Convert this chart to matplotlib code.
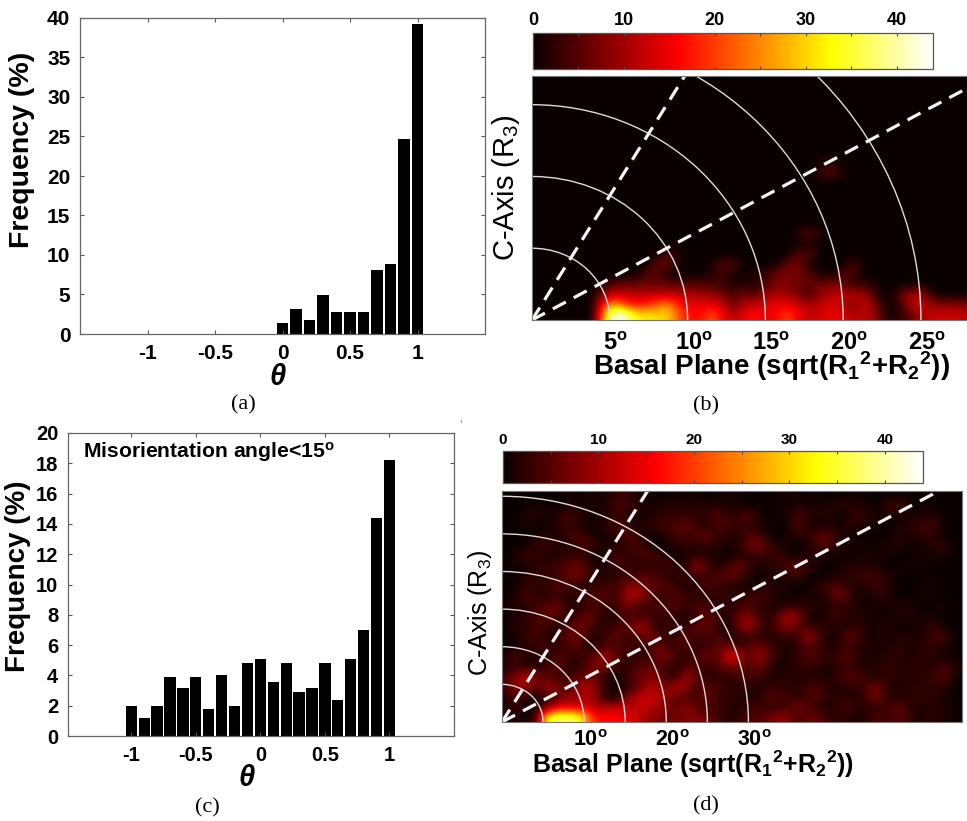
import numpy as np
import matplotlib
matplotlib.use('Agg')
import matplotlib.pyplot as plt
from matplotlib.patches import Ellipse
from matplotlib.transforms import ScaledTranslation

plt.rcParams['font.family'] = ['Liberation Sans', 'DejaVu Sans']
plt.rcParams['mathtext.default'] = 'regular'

W, H = 967, 821

# histogram (a)
theta_a = [0.0, 0.1, 0.2, 0.3, 0.4, 0.5, 0.6, 0.7, 0.8, 0.9, 1.0]
freq_a = [1.4, 3.2, 1.8, 4.9, 2.8, 2.8, 2.8, 8.1, 8.8, 24.7, 39.3]

# histogram (c)
theta_c = [-1.0, -0.9, -0.8, -0.7, -0.6, -0.5, -0.4, -0.3, -0.2, -0.1, 0.0,
           0.1, 0.2, 0.3, 0.4, 0.5, 0.6, 0.7, 0.8, 0.9, 1.0]
freq_c = [2.0, 1.2, 2.0, 3.9, 3.2, 3.9, 1.8, 4.05, 2.0, 4.8, 5.05,
          3.55, 4.8, 2.9, 3.2, 4.8, 2.4, 5.05, 7.0, 14.4, 18.2]

theta_ticks = [-1, -0.5, 0, 0.5, 1]
theta_labels = ['-1', '-0.5', '0', '0.5', '1']

# pole figure (b), rows listed from the bottom edge upwards, 40 columns
rows_b = [
    [0, 0, 0, 0, 0, 0, 24, 44, 44, 33, 32, 31, 30, 22, 17, 16, 22, 16, 11, 15,
     17, 14, 16, 21, 15, 12, 13, 15, 14, 11, 12, 9, 2, 1, 4, 9, 12, 13, 13, 12],
    [0, 0, 0, 0, 0, 0, 17, 28, 20, 17, 18, 22, 26, 18, 15, 15, 15, 13, 6, 11,
     13, 14, 15, 15, 13, 11, 12, 14, 13, 6, 13, 8, 1, 1, 8, 14, 10, 8, 9, 8],
    [0, 0, 0, 0, 0, 0, 8, 13, 13, 12, 12, 12, 12, 12, 11, 10, 9, 7, 4, 8,
     4, 9, 11, 10, 7, 3, 9, 11, 12, 12, 11, 3, 0, 2, 10, 11, 4, 0, 0, 0],
    [0, 0, 0, 0, 0, 0, 1, 5, 6, 6, 6, 6, 6, 5, 5, 5, 4, 3, 1, 2,
     1, 5, 7, 7, 6, 6, 7, 8, 6, 1, 3, 1, 0, 0, 0, 1, 0, 0, 0, 0],
    [0, 0, 0, 0, 0, 0, 0, 0, 0, 0, 5, 5, 1, 0, 0, 0, 2, 4, 1, 0,
     2, 3, 7, 8, 7, 5, 1, 0, 5, 5, 0, 0, 0, 0, 0, 0, 0, 0, 0, 0],
    [0, 0, 0, 0, 0, 0, 0, 0, 0, 0, 0, 6, 6, 1, 0, 0, 1, 5, 5, 0,
     0, 0, 0, 6, 7, 1, 0, 0, 0, 4, 0, 0, 0, 0, 0, 0, 0, 0, 0, 0],
    [0, 0, 0, 0, 0, 0, 0, 0, 0, 0, 0, 0, 5, 1, 0, 0, 0, 0, 0, 0,
     0, 0, 0, 0, 5, 5, 0, 0, 0, 0, 0, 0, 0, 0, 0, 0, 0, 0, 0, 0],
    [0, 0, 0, 0, 0, 0, 0, 0, 0, 0, 0, 0, 0, 0, 0, 0, 0, 0, 0, 0,
     0, 0, 0, 0, 0, 1, 0, 0, 0, 0, 0, 0, 0, 0, 0, 0, 0, 0, 0, 0],
    [0, 0, 0, 0, 0, 0, 0, 0, 0, 0, 0, 0, 0, 0, 0, 0, 0, 0, 0, 0,
     0, 0, 0, 0, 2, 6, 1, 0, 0, 0, 0, 0, 0, 0, 0, 0, 0, 0, 0, 0],
    [0] * 40,
    [0] * 40,
    [0] * 40,
    [0] * 40,
    [0] * 40,
    [0, 0, 0, 0, 0, 0, 0, 0, 0, 0, 0, 0, 0, 0, 0, 0, 0, 0, 0, 0,
     0, 0, 0, 0, 0, 0, 3, 6, 1, 0, 0, 0, 0, 0, 0, 0, 0, 0, 0, 0],
    [0, 0, 0, 0, 0, 0, 0, 0, 0, 0, 0, 0, 0, 0, 0, 0, 0, 0, 0, 0,
     0, 0, 0, 0, 0, 0, 1, 2, 0, 0, 0, 0, 0, 0, 0, 0, 0, 0, 0, 0],
    [0] * 40,
    [0] * 40,
    [0] * 40,
    [0] * 40,
    [0] * 40,
    [0] * 40,
    [0] * 40,
    [0] * 40,
]

# pole figure (d), rows listed from the top edge downwards, 46 columns
rows_d = [
    [0, 0, 0, 0, 0, 0, 1, 0, 1, 1, 1, 3, 3, 1, 1, 0, 0, 1, 0, 1, 0, 0, 1,
     1, 0, 0, 0, 1, 1, 1, 0, 1, 0, 0, 0, 1, 0, 0, 0, 0, 0, 0, 0, 0, 0, 0],
    [0, 0, 0, 1, 0, 0, 1, 1, 1, 2, 1, 4, 4, 2, 1, 1, 2, 1, 2, 2, 1, 2, 1,
     1, 0, 1, 0, 0, 1, 1, 1, 1, 1, 2, 3, 1, 1, 0, 3, 5, 2, 0, 1, 0, 0, 0],
    [0, 0, 2, 2, 1, 2, 4, 3, 1, 0, 2, 3, 2, 1, 1, 2, 3, 2, 3, 2, 3, 5, 3,
     2, 6, 2, 0, 1, 1, 4, 3, 1, 3, 0, 0, 4, 2, 1, 1, 0, 1, 1, 2, 1, 0, 0],
    [0, 1, 1, 0, 0, 2, 3, 2, 0, 1, 3, 4, 3, 1, 2, 3, 4, 5, 6, 3, 1, 4, 4,
     3, 3, 1, 1, 0, 0, 5, 2, 0, 1, 1, 2, 2, 1, 1, 0, 1, 2, 2, 4, 3, 0, 0],
    [0, 0, 0, 1, 2, 1, 3, 5, 3, 0, 1, 2, 5, 3, 1, 0, 2, 4, 3, 5, 6, 3, 2,
     1, 4, 5, 1, 0, 1, 2, 2, 5, 6, 2, 1, 0, 1, 0, 0, 2, 1, 2, 3, 1, 0, 0],
    [0, 0, 1, 3, 4, 2, 1, 3, 5, 2, 1, 1, 3, 5, 2, 0, 0, 2, 3, 1, 3, 2, 1,
     2, 5, 8, 5, 1, 1, 0, 1, 4, 4, 3, 1, 1, 0, 1, 1, 2, 1, 0, 1, 3, 2, 0],
    [0, 2, 3, 2, 1, 1, 3, 2, 2, 0, 2, 5, 2, 3, 5, 3, 2, 0, 1, 2, 1, 1, 0,
     1, 2, 3, 2, 4, 1, 0, 2, 1, 1, 0, 0, 1, 1, 1, 1, 0, 0, 1, 1, 1, 1, 0],
    [0, 1, 1, 2, 3, 4, 5, 7, 4, 1, 2, 3, 4, 2, 2, 3, 4, 2, 2, 11, 4, 1, 3,
     7, 4, 1, 2, 2, 5, 6, 3, 1, 0, 1, 2, 1, 2, 1, 0, 0, 1, 1, 0, 0, 0, 0],
    [1, 0, 2, 3, 2, 3, 5, 7, 4, 2, 1, 2, 3, 4, 5, 3, 2, 2, 3, 2, 3, 5, 6,
     5, 2, 0, 1, 1, 2, 3, 1, 0, 0, 1, 2, 3, 4, 3, 2, 1, 0, 0, 1, 0, 0, 0],
    [0, 1, 3, 2, 3, 5, 4, 2, 1, 3, 4, 4, 8, 9, 6, 6, 5, 2, 1, 3, 5, 3, 2,
     1, 0, 1, 3, 1, 1, 0, 0, 2, 4, 5, 2, 1, 2, 4, 2, 0, 0, 0, 1, 1, 0, 0],
    [0, 2, 4, 2, 2, 3, 1, 3, 5, 4, 5, 3, 10, 11, 7, 2, 3, 5, 3, 2, 1, 3, 3,
     2, 3, 5, 3, 1, 1, 0, 1, 1, 2, 7, 5, 1, 1, 1, 2, 0, 0, 1, 1, 0, 0, 0],
    [1, 1, 2, 4, 5, 7, 3, 1, 2, 5, 2, 4, 7, 4, 2, 5, 4, 5, 2, 5, 4, 2, 2,
     3, 4, 2, 2, 1, 2, 3, 2, 2, 1, 2, 2, 1, 1, 1, 1, 2, 2, 0, 0, 1, 1, 0],
    [0, 1, 3, 3, 6, 5, 1, 4, 7, 4, 1, 2, 4, 3, 5, 2, 4, 2, 1, 4, 5, 4, 1,
     5, 9, 5, 1, 4, 11, 9, 2, 0, 2, 4, 2, 2, 1, 1, 0, 1, 2, 1, 1, 1, 0, 0],
    [1, 2, 2, 5, 3, 1, 4, 6, 6, 2, 2, 4, 6, 10, 8, 2, 3, 2, 3, 5, 6, 3, 0,
     6, 11, 6, 2, 5, 9, 5, 3, 2, 2, 1, 1, 3, 1, 1, 2, 1, 0, 1, 2, 2, 0, 0],
    [0, 1, 3, 4, 1, 3, 6, 8, 3, 1, 4, 6, 2, 4, 8, 5, 2, 4, 5, 3, 4, 4, 2,
     1, 3, 2, 1, 2, 3, 3, 10, 6, 1, 1, 6, 4, 1, 1, 1, 1, 2, 1, 2, 5, 3, 0],
    [0, 1, 2, 3, 4, 2, 3, 5, 1, 2, 5, 3, 5, 2, 3, 6, 4, 3, 5, 2, 3, 5, 7,
     4, 4, 7, 5, 2, 1, 2, 5, 3, 1, 2, 3, 2, 2, 1, 1, 2, 2, 1, 3, 2, 1, 0],
    [2, 5, 1, 2, 1, 4, 5, 2, 4, 7, 11, 6, 2, 3, 2, 7, 8, 3, 2, 4, 7, 4, 14,
     14, 5, 9, 7, 2, 1, 3, 4, 5, 2, 3, 6, 2, 1, 1, 2, 3, 1, 2, 2, 1, 1, 0],
    [1, 3, 2, 1, 4, 6, 2, 1, 5, 8, 6, 2, 2, 4, 6, 4, 3, 2, 5, 4, 2, 5, 6,
     7, 3, 7, 4, 1, 1, 2, 3, 2, 1, 2, 3, 2, 2, 2, 3, 1, 2, 2, 2, 2, 4, 1],
    [5, 8, 13, 8, 4, 3, 4, 5, 7, 5, 1, 1, 4, 6, 7, 9, 2, 3, 10, 6, 2, 2, 2,
     3, 5, 3, 2, 1, 2, 2, 1, 2, 1, 3, 5, 5, 2, 1, 3, 2, 2, 2, 2, 4, 5, 0],
    [4, 10, 9, 4, 11, 8, 4, 7, 12, 7, 2, 1, 1, 5, 10, 10, 7, 13, 8, 3, 5, 5, 2,
     2, 2, 1, 2, 3, 2, 2, 3, 5, 2, 1, 2, 2, 5, 7, 2, 1, 2, 2, 2, 3, 1, 0],
    [2, 4, 2, 1, 3, 5, 8, 10, 11, 8, 0, 0, 8, 11, 13, 12, 8, 5, 4, 4, 7, 2, 3,
     2, 2, 1, 5, 5, 3, 2, 4, 5, 2, 2, 2, 1, 4, 8, 3, 1, 2, 3, 2, 2, 1, 0],
    [1, 3, 0, 1, 5, 13, 14, 12, 13, 10, 11, 13, 11, 12, 12, 10, 7, 6, 9, 5, 3, 4, 2,
     1, 3, 4, 2, 2, 4, 7, 5, 2, 1, 3, 4, 2, 2, 2, 3, 6, 3, 1, 2, 2, 1, 0],
    [1, 2, 0, 5, 34, 38, 38, 37, 26, 16, 17, 16, 14, 13, 9, 8, 7, 6, 8, 8, 6, 4, 2,
     2, 5, 4, 6, 9, 8, 4, 5, 7, 3, 2, 2, 1, 2, 5, 3, 5, 4, 1, 2, 2, 1, 0],
]

cbar_ticks = [0, 5, 10, 15, 20, 25, 30, 35, 40]
cbar_labels = ['0', '', '10', '', '20', '', '30', '', '40']
rings_b = [5, 10, 15, 20, 25]
rings_d = [5, 10, 15, 20, 25, 30]
deg_ticks_b = [5, 10, 15, 20, 25]
deg_ticks_d = [10, 20, 30]
dash_angles = [30, 60]

fig = plt.figure(figsize=(W / 100, H / 100), dpi=100)


def px_axes(left, top, right, bottom):
    return fig.add_axes([left / W, 1 - bottom / H, (right - left) / W, (bottom - top) / H])


def px_text(x, y, s, **kw):
    kw.setdefault('ha', 'center')
    kw.setdefault('va', 'center')
    fig.text(x / W, 1 - y / H, s, **kw)


def histogram(ax, theta, freq, ymax, ystep, size):
    ax.bar(theta, freq, width=0.087, color='black', linewidth=0)
    ax.set_xlim(-1.5, 1.5)
    ax.set_ylim(0, ymax)
    ax.set_xticks(theta_ticks, theta_labels)
    ax.set_yticks(np.arange(0, ymax + 1, ystep))
    ax.tick_params(direction='in', top=True, right=True, length=3, width=0.8, color='#555555', pad=7)
    for lab in ax.get_xticklabels() + ax.get_yticklabels():
        lab.set_fontsize(size)
        lab.set_fontweight('bold')
    for sp in ax.spines.values():
        sp.set_color('#666666')
        sp.set_linewidth(0.9)


def pole_figure(ax, cax, grid, xmax, ymax, rings, deg_ticks, deg_size, deg_pad, cbar_size):
    im = ax.imshow(np.array(grid, dtype=float), origin='lower', extent=[0, xmax, 0, ymax], aspect='auto',
                   cmap='hot', vmin=0, vmax=44, interpolation='bicubic')
    for r in rings:
        ax.add_patch(Ellipse((0, 0), 2 * r, 2 * r, fill=False, ec='#dcdcdc', lw=1.0))
    for ang in dash_angles:
        a = np.deg2rad(ang)
        ax.plot([0, 80 * np.cos(a)], [0, 80 * np.sin(a)], color='#f4f4f4', lw=2.3,
                linestyle=(0, (4.6, 2.8)), dash_capstyle='butt')
    ax.set_xlim(0, xmax)
    ax.set_ylim(0, ymax)
    ax.set_yticks([])
    ax.set_xticks(deg_ticks, ['%d$^{o}$' % d for d in deg_ticks])
    ax.tick_params(axis='x', length=0, pad=deg_pad)
    shift = ScaledTranslation(6 / 100, 0, fig.dpi_scale_trans)
    for lab in ax.get_xticklabels():
        lab.set_fontsize(deg_size)
        lab.set_fontweight('bold')
        lab.set_transform(lab.get_transform() + shift)
    for sp in ax.spines.values():
        sp.set_color('#777777')
        sp.set_linewidth(0.8)

    cb = fig.colorbar(im, cax=cax, orientation='horizontal')
    cb.set_ticks(cbar_ticks, labels=cbar_labels)
    cax.xaxis.set_ticks_position('both')
    cax.tick_params(direction='in', length=2.5, width=0.8, color='#444444', labeltop=True, labelbottom=False, pad=3)
    for lab in cax.get_xticklabels():
        lab.set_fontsize(cbar_size)
        lab.set_fontweight('bold')
    cb.outline.set_edgecolor('#555555')
    cb.outline.set_linewidth(0.9)


ax_a = px_axes(80, 18, 485, 334)
histogram(ax_a, theta_a, freq_a, 40, 5, 15)
px_text(22, 150, 'Frequency (%)', rotation=90, fontsize=20.5, fontweight='bold')
px_text(278, 377, '\u03b8', fontsize=21, fontweight='bold', fontstyle='italic')

ax_c = px_axes(68, 433, 454, 736)
histogram(ax_c, theta_c, freq_c, 20, 2, 14.5)
ax_c.set_xlim(-1.49, 1.5)
px_text(18, 576, 'Frequency (%)', rotation=90, fontsize=20, fontweight='bold')
px_text(247, 778, '\u03b8', fontsize=21, fontweight='bold', fontstyle='italic')
px_text(83, 452, 'Misorientation angle<15$^{o}$', ha='left', fontsize=15.2, fontweight='bold')

ax_b = px_axes(532, 76, 967, 320)
cax_b = px_axes(533, 33, 933, 69)
pole_figure(ax_b, cax_b, rows_b, 27.96, 17.0, rings_b, deg_ticks_b, 17, 9, 13)
px_text(772, 366, r'Basal Plane (sqrt(R$_1$$^2$+R$_2$$^2$))', fontsize=20, fontweight='bold')
px_text(506, 188, 'C-Axis (R$_3$)', rotation=90, fontsize=21)

ax_d = px_axes(502, 491, 962, 722)
cax_d = px_axes(503, 451, 923, 483)
pole_figure(ax_d, cax_d, rows_d[::-1], 56.0, 30.7, rings_d, deg_ticks_d, 15.5, 6, 11)
px_text(693, 764, r'Basal Plane (sqrt(R$_1$$^2$+R$_2$$^2$))', fontsize=18, fontweight='bold')
px_text(480, 613, 'C-Axis (R$_3$)', rotation=90, fontsize=18)

for x, y, s in [(243, 405, '(a)'), (706, 406, '(b)'), (207, 808, '(c)'), (706, 806, '(d)')]:
    px_text(x, y, s, fontsize=16, family='Liberation Serif')
px_text(460, 425, "'", fontsize=9, color='#888888')

fig.savefig('out.png', dpi=100)
